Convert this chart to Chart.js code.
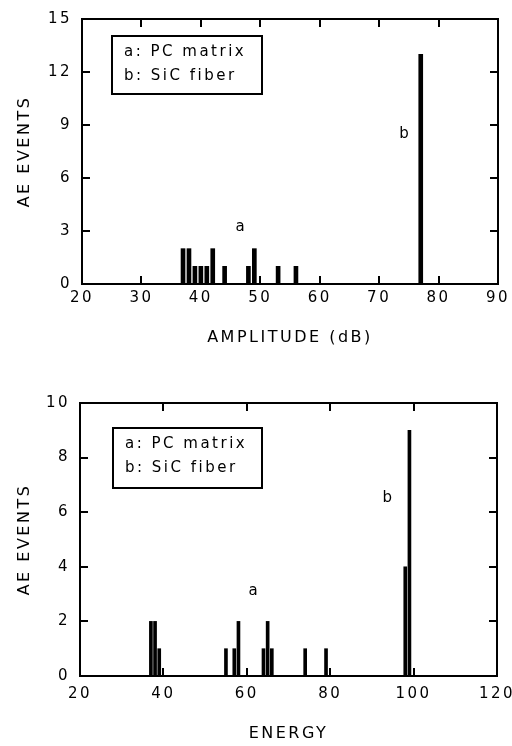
<!DOCTYPE html>
<html>
<head>
<meta charset="utf-8">
<script src="https://cdn.jsdelivr.net/npm/chart.js@4"></script>
<style>
  html, body { margin: 0; padding: 0; background: #fff; }
  .box { position: absolute; left: 0; width: 512px; height: 373px; }
</style>
</head>
<body>
<div class="box" style="top:0"><canvas id="ampChart"></canvas></div>
<div class="box" style="top:373px"><canvas id="energyChart"></canvas></div>
<script>
// amplitude histogram (dB)
const ampMatrix = [37, 38, 39, 40, 41, 42, 44, 48, 49, 53, 56];
const ampMatrixEvents = [2, 2, 1, 1, 1, 2, 1, 1, 2, 1, 1];
const ampFiber = [77];
const ampFiberEvents = [13];
const ampTicks = [20, 30, 40, 50, 60, 70, 80, 90];
const ampEventTicks = [0, 3, 6, 9, 12, 15];

// energy histogram
const energyMatrix = [37, 38, 39, 55, 57, 58, 64, 65, 66, 74, 79];
const energyMatrixEvents = [2, 2, 1, 1, 1, 2, 1, 2, 1, 1, 1];
const energyFiber = [98, 99];
const energyFiberEvents = [4, 9];
const energyTicks = [20, 40, 60, 80, 100, 120];
const energyEventTicks = [0, 2, 4, 6, 8, 10];

const legendLines = ['a: PC matrix', 'b: SiC fiber'];

const FONT = '"DejaVu Sans", sans-serif';

// box, inward ticks, legend box and a/b labels
const framePlugin = {
  id: 'frame',
  beforeDraw(chart) {
    chart.ctx.letterSpacing = '2.5px';
  },
  afterDatasetsDraw(chart, args, opts) {
    const { ctx, chartArea: a, scales: { x, y } } = chart;
    const L = Math.round(a.left);
    const R = Math.round(a.right);
    const T = Math.round(a.top);
    const B = Math.round(a.bottom);
    ctx.save();
    ctx.strokeStyle = '#000';
    ctx.lineWidth = 2;
    ctx.lineCap = 'square';
    ctx.beginPath();
    ctx.moveTo(L, T);
    ctx.lineTo(R, T);
    ctx.lineTo(R, B);
    ctx.lineTo(L, B);
    ctx.closePath();
    x.ticks.forEach((t) => {
      const px = Math.round(x.getPixelForValue(t.value));
      ctx.moveTo(px, B);
      ctx.lineTo(px, B - 7);
      ctx.moveTo(px, T);
      ctx.lineTo(px, T + 7);
    });
    y.ticks.forEach((t) => {
      const py = Math.round(y.getPixelForValue(t.value));
      ctx.moveTo(L, py);
      ctx.lineTo(L + 7, py);
      ctx.moveTo(R, py);
      ctx.lineTo(R - 7, py);
    });
    ctx.stroke();

    const lb = opts.legendBox;
    ctx.beginPath();
    ctx.rect(L + lb.dx, T + lb.dy, lb.w, lb.h);
    ctx.stroke();
    ctx.fillStyle = '#000';
    ctx.font = '15px ' + FONT;
    ctx.textBaseline = 'middle';
    ctx.textAlign = 'left';
    legendLines.forEach((s, i) => {
      ctx.fillText(s, L + lb.dx + 12, T + lb.dy + 16 + i * 24);
    });

    ctx.textAlign = 'center';
    opts.marks.forEach((m) => {
      ctx.fillText(m.text, x.getPixelForValue(m.x), y.getPixelForValue(m.y));
    });
    ctx.restore();
  },
};

function makeChart(id, cfg) {
  const toPoints = (xs, ys) => xs.map((v, i) => ({ x: v, y: ys[i] }));
  return new Chart(document.getElementById(id), {
    type: 'bar',
    data: {
      datasets: [
        { label: 'a', data: toPoints(cfg.aX, cfg.aY) },
        { label: 'b', data: toPoints(cfg.bX, cfg.bY) },
      ].map((d) => ({
        ...d,
        backgroundColor: '#000',
        borderWidth: 0,
        barThickness: cfg.barWidth,
        grouped: false,
      })),
    },
    options: {
      responsive: true,
      maintainAspectRatio: false,
      animation: false,
      layout: { padding: cfg.padding },
      plugins: {
        legend: { display: false },
        tooltip: { enabled: false },
        frame: { legendBox: cfg.legendBox, marks: cfg.marks },
      },
      scales: {
        x: {
          type: 'linear',
          offset: false,
          min: cfg.xTicks[0],
          max: cfg.xTicks[cfg.xTicks.length - 1],
          afterBuildTicks: (s) => { s.ticks = cfg.xTicks.map((v) => ({ value: v })); },
          afterFit: (s) => { s.height = cfg.xHeight; s.paddingLeft = 0; s.paddingRight = 0; },
          grid: { display: false, drawTicks: false },
          border: { display: false },
          ticks: { color: '#000', padding: cfg.xTickPad, maxRotation: 0, autoSkip: false, font: { family: FONT, size: 15 } },
          title: { display: true, text: cfg.xTitle, color: '#000', padding: { top: 0, bottom: cfg.xTitlePad }, font: { family: FONT, size: 16 } },
        },
        y: {
          min: cfg.yTicks[0],
          max: cfg.yTicks[cfg.yTicks.length - 1],
          afterBuildTicks: (s) => { s.ticks = cfg.yTicks.map((v) => ({ value: v })); },
          afterFit: (s) => { s.width = cfg.yWidth; },
          grid: { display: false, drawTicks: false },
          border: { display: false },
          ticks: { color: '#000', padding: 10, font: { family: FONT, size: 15 } },
          title: { display: true, text: 'AE EVENTS', color: '#000', padding: { top: 15, bottom: 0 }, font: { family: FONT, size: 16 } },
        },
      },
    },
    plugins: [framePlugin],
  });
}

makeChart('ampChart', {
  aX: ampMatrix, aY: ampMatrixEvents, bX: ampFiber, bY: ampFiberEvents,
  xTicks: ampTicks, yTicks: ampEventTicks,
  xTitle: 'AMPLITUDE (dB)',
  barWidth: 4,
  padding: { top: 14, right: 14, left: 0, bottom: 0 },
  xHeight: 89, yWidth: 82, xTickPad: 5, xTitlePad: 26,
  legendBox: { dx: 30, dy: 17, w: 150, h: 58 },
  marks: [{ text: 'a', x: 46.8, y: 3.2 }, { text: 'b', x: 74.4, y: 8.5 }],
});

makeChart('energyChart', {
  aX: energyMatrix, aY: energyMatrixEvents, bX: energyFiber, bY: energyFiberEvents,
  xTicks: energyTicks, yTicks: energyEventTicks,
  xTitle: 'ENERGY',
  barWidth: 3,
  padding: { top: 30, right: 15, left: 0, bottom: 0 },
  xHeight: 70, yWidth: 80, xTickPad: 9, xTitlePad: 3,
  legendBox: { dx: 33, dy: 25, w: 149, h: 60 },
  marks: [{ text: 'a', x: 61.8, y: 3.1 }, { text: 'b', x: 94, y: 6.5 }],
});
</script>
</body>
</html>
